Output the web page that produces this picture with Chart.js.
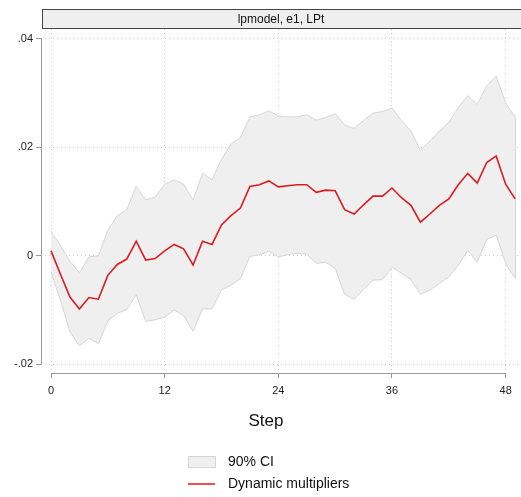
<!DOCTYPE html>
<html>
<head>
<meta charset="utf-8">
<script src="https://cdn.jsdelivr.net/npm/chart.js@4/dist/chart.umd.min.js"></script>
<style>
  html, body { margin: 0; padding: 0; background: #fff; }
  #wrap { width: 521px; height: 497px; }
</style>
</head>
<body>
<div id="wrap"><canvas id="chart" width="521" height="497"></canvas></div>
<script>
// Data (steps 0..49)
const steps = [...Array(50).keys()];
const dynMult = [
  0.0009, -0.0034, -0.0076, -0.0098, -0.0077, -0.0080, -0.0036, -0.0016, -0.0006, 0.0027,
  -0.0008, -0.0005, 0.0009, 0.0021, 0.0013, -0.0017, 0.0027, 0.0021, 0.0057, 0.0074,
  0.0088, 0.0128, 0.0131, 0.0138, 0.0127, 0.0129, 0.0131, 0.0131, 0.0117, 0.0121,
  0.0120, 0.0085, 0.0077, 0.0094, 0.0110, 0.0110, 0.0125, 0.0107, 0.0093, 0.0062,
  0.0077, 0.0093, 0.0105, 0.0131, 0.0152, 0.0134, 0.0172, 0.0184, 0.0132, 0.0105
];
const ciUpper = [
  0.0045, 0.0019, -0.0010, -0.0031, -0.0002, 0.0000, 0.0047, 0.0074, 0.0085, 0.0128,
  0.0103, 0.0108, 0.0132, 0.0140, 0.0132, 0.0103, 0.0152, 0.0140, 0.0178, 0.0206,
  0.0218, 0.0256, 0.0260, 0.0267, 0.0258, 0.0256, 0.0256, 0.0260, 0.0250, 0.0255,
  0.0262, 0.0241, 0.0235, 0.0249, 0.0263, 0.0266, 0.0272, 0.0249, 0.0230, 0.0194,
  0.0212, 0.0230, 0.0246, 0.0273, 0.0295, 0.0279, 0.0313, 0.0331, 0.0282, 0.0255
];
const ciLower = [
  -0.0030, -0.0082, -0.0140, -0.0166, -0.0152, -0.0162, -0.0120, -0.0106, -0.0099, -0.0072,
  -0.0121, -0.0118, -0.0113, -0.0100, -0.0110, -0.0139, -0.0098, -0.0098, -0.0063, -0.0054,
  -0.0042, -0.0001, 0.0002, 0.0008, -0.0002, 0.0002, 0.0005, 0.0003, -0.0014, -0.0012,
  -0.0023, -0.0071, -0.0080, -0.0062, -0.0045, -0.0044, -0.0021, -0.0032, -0.0044, -0.0071,
  -0.0063, -0.0051, -0.0039, -0.0017, 0.0010, -0.0012, 0.0030, 0.0038, -0.0014, -0.0042
];
const xTicks = [0, 12, 24, 36, 48];
const yTicks = [-0.02, 0, 0.02, 0.04];
const yTickLabels = ['-.02', '0', '.02', '.04'];

const panelTitle = 'lpmodel, e1, LPt';
const xTitle = 'Step';
const legendItems = ['90% CI', 'Dynamic multipliers'];

const FONT = '"Liberation Sans", Arial, sans-serif';
const BAND_FILL = '#efefef';
const BAND_EDGE = '#d6d6d6';
const LINE_RED = '#dc1a1f';
const AXIS_GRAY = '#9a9a9a';

const toPts = vals => steps.map((s, i) => ({ x: s, y: vals[i] }));

// closes the CI band at both ends, like Stata's rarea outline
const bandEnds = {
    id: 'bandEnds',
    beforeDatasetsDraw(chart) {
        const { ctx, scales } = chart;
        ctx.save();
        ctx.strokeStyle = BAND_EDGE;
        ctx.lineWidth = 1;
        ctx.beginPath();
        [0, steps.length - 1].forEach(i => {
            const px = Math.round(scales.x.getPixelForValue(steps[i])) + 0.5;
            ctx.moveTo(px, scales.y.getPixelForValue(ciUpper[i]));
            ctx.lineTo(px, scales.y.getPixelForValue(ciLower[i]));
        });
        ctx.stroke();
        ctx.restore();
    }
};

// axis lines only across the tick range, strip title, x title, legend
const stataDecor = {
    id: 'stataDecor',
    afterDraw(chart) {
        const { ctx, chartArea, scales } = chart;
        const xs = scales.x, ys = scales.y;
        ctx.save();

        // axis lines
        ctx.strokeStyle = AXIS_GRAY;
        ctx.lineWidth = 1;
        ctx.beginPath();
        ctx.moveTo(chartArea.left + 0.5, ys.getPixelForValue(yTicks[yTicks.length - 1]));
        ctx.lineTo(chartArea.left + 0.5, ys.getPixelForValue(yTicks[0]));
        ctx.moveTo(xs.getPixelForValue(xTicks[0]), chartArea.bottom + 0.5);
        ctx.lineTo(xs.getPixelForValue(xTicks[xTicks.length - 1]), chartArea.bottom + 0.5);
        ctx.stroke();

        // panel title strip
        const stripTop = 9, stripH = 19;
        ctx.fillStyle = '#efefef';
        ctx.fillRect(chartArea.left + 1, stripTop, chart.width, stripH);
        ctx.strokeStyle = '#444';
        ctx.strokeRect(chartArea.left + 1.5, stripTop + 0.5, chart.width, stripH);
        ctx.fillStyle = '#111';
        ctx.font = '12px ' + FONT;
        ctx.textAlign = 'center';
        ctx.textBaseline = 'middle';
        ctx.fillText(panelTitle, (chartArea.left + chartArea.right) / 2, stripTop + stripH / 2 + 1);

        // x title
        ctx.font = '17px ' + FONT;
        ctx.fillText(xTitle, 266, 421);

        // legend
        const lx = 188, lw = 27;
        ctx.fillStyle = BAND_FILL;
        ctx.fillRect(lx, 456, lw, 11);
        ctx.strokeStyle = BAND_EDGE;
        ctx.strokeRect(lx + 0.5, 456.5, lw, 11);
        ctx.strokeStyle = LINE_RED;
        ctx.lineWidth = 1.5;
        ctx.beginPath();
        ctx.moveTo(lx, 484);
        ctx.lineTo(lx + lw, 484);
        ctx.stroke();
        ctx.fillStyle = '#111';
        ctx.font = '14px ' + FONT;
        ctx.textAlign = 'left';
        ctx.fillText(legendItems[0], 228, 462);
        ctx.fillText(legendItems[1], 228, 484);

        ctx.restore();
    }
};

new Chart(document.getElementById('chart'), {
    type: 'line',
    data: {
        datasets: [
            {
                label: 'lower',
                data: toPts(ciLower),
                borderColor: BAND_EDGE,
                borderWidth: 1,
                pointRadius: 0,
                fill: false,
                order: 2
            },
            {
                label: legendItems[0],
                data: toPts(ciUpper),
                borderColor: BAND_EDGE,
                borderWidth: 1,
                backgroundColor: BAND_FILL,
                pointRadius: 0,
                fill: '-1',
                order: 2
            },
            {
                label: legendItems[1],
                data: toPts(dynMult),
                borderColor: LINE_RED,
                borderWidth: 1.6,
                pointRadius: 0,
                fill: false,
                order: 1
            }
        ]
    },
    options: {
        responsive: false,
        devicePixelRatio: 1,
        animation: false,
        layout: { padding: { top: 29, right: 0, left: 0, bottom: 0 } },
        plugins: {
            legend: { display: false },
            tooltip: { enabled: false }
        },
        scales: {
            x: {
                type: 'linear',
                min: -1.056,
                max: 49.62,
                afterBuildTicks: s => { s.ticks = xTicks.map(v => ({ value: v })); },
                afterFit: s => { s.height = 124; },
                border: { display: false, dash: [1, 3] },
                grid: {
                    color: '#cfcfcf',
                    tickColor: AXIS_GRAY,
                    tickLength: 5,
                    tickBorderDash: []
                },
                ticks: {
                    color: '#222',
                    padding: 6,
                    maxRotation: 0,
                    font: { family: FONT, size: 11 },
                    callback: v => String(v)
                }
            },
            y: {
                min: -0.0216,
                max: 0.0418,
                afterBuildTicks: s => { s.ticks = yTicks.map(v => ({ value: v })); },
                afterFit: s => { s.width = 41; },
                border: { display: false, dash: [1, 3] },
                grid: {
                    color: '#cfcfcf',
                    tickColor: AXIS_GRAY,
                    tickLength: 5,
                    tickBorderDash: []
                },
                ticks: {
                    color: '#222',
                    padding: 3,
                    font: { family: FONT, size: 11 },
                    callback: v => {
                        const i = yTicks.findIndex(t => Math.abs(t - v) < 1e-9);
                        return i >= 0 ? yTickLabels[i] : '';
                    }
                }
            }
        }
    },
    plugins: [bandEnds, stataDecor]
});
</script>
</body>
</html>
